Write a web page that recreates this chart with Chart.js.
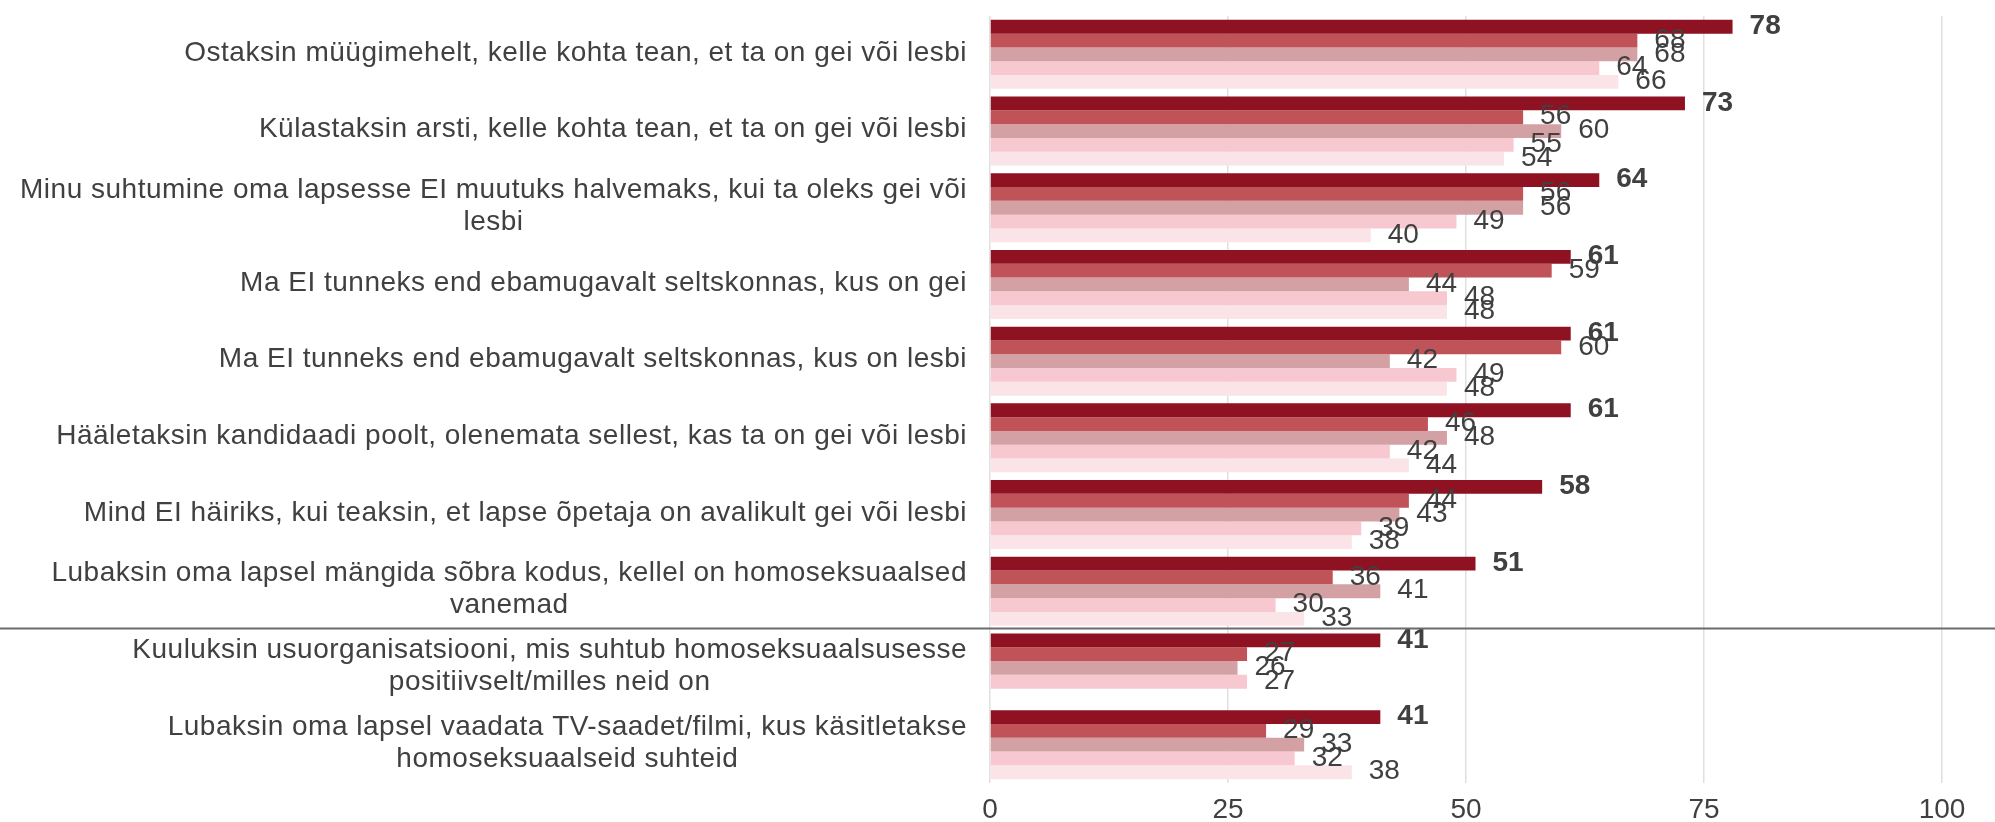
<!DOCTYPE html>
<html>
<head>
<meta charset="utf-8">
<script src="https://cdn.jsdelivr.net/npm/chart.js@4.4.0/dist/chart.umd.min.js"></script>
<style>
  html, body { margin: 0; padding: 0; background: #fff; }
  #wrap { width: 1995px; height: 822px; }
</style>
</head>
<body>
<div id="wrap"><canvas id="barChart"></canvas></div>
<script>
// ------------------------
// Data
// ------------------------

const categories = [
  ['Ostaksin müügimehelt, kelle kohta tean, et ta on gei või lesbi'],
  ['Külastaksin arsti, kelle kohta tean, et ta on gei või lesbi'],
  ['Minu suhtumine oma lapsesse EI muutuks halvemaks, kui ta oleks gei või', 'lesbi'],
  ['Ma EI tunneks end ebamugavalt seltskonnas, kus on gei'],
  ['Ma EI tunneks end ebamugavalt seltskonnas, kus on lesbi'],
  ['Hääletaksin kandidaadi poolt, olenemata sellest, kas ta on gei või lesbi'],
  ['Mind EI häiriks, kui teaksin, et lapse õpetaja on avalikult gei või lesbi'],
  ['Lubaksin oma lapsel mängida sõbra kodus, kellel on homoseksuaalsed', 'vanemad'],
  ['Kuuluksin usuorganisatsiooni, mis suhtub homoseksuaalsusesse', 'positiivselt/milles neid on'],
  ['Lubaksin oma lapsel vaadata TV-saadet/filmi, kus käsitletakse', 'homoseksuaalseid suhteid']
];

const series1 = [78, 73, 64, 61, 61, 61, 58, 51, 41, 41];
const series2 = [68, 56, 56, 59, 60, 46, 44, 36, 27, 29];
const series3 = [68, 60, 56, 44, 42, 48, 43, 41, 26, 33];
const series4 = [64, 55, 49, 48, 49, 42, 39, 30, 27, 32];
const series5 = [66, 54, 40, 48, 48, 44, 38, 33, null, 38];

const xTicks = [0, 25, 50, 75, 100];

const colors = ['#8f1222', '#bf5358', '#d3a1a4', '#f7c8cf', '#fae4e7'];

const FONT = '"Liberation Sans", Arial, Helvetica, sans-serif';
const TEXT = '#404040';

// ------------------------
// Plugins
// ------------------------

// value labels at the bar ends
const valueLabels = {
  id: 'valueLabels',
  afterDatasetsDraw(chart) {
    const ctx = chart.ctx;
    ctx.save();
    ctx.fillStyle = TEXT;
    ctx.textAlign = 'left';
    ctx.textBaseline = 'middle';
    chart.data.datasets.forEach((ds, i) => {
      const meta = chart.getDatasetMeta(i);
      ctx.font = (i === 0 ? 'bold ' : '') + '28px ' + FONT;
      meta.data.forEach((bar, j) => {
        const v = ds.data[j];
        if (v === null || v === undefined) return;
        ctx.fillText(Math.round(v), bar.x + 17, bar.y - 0.5);
      });
    });
    ctx.restore();
  }
};

// category labels: right block, extra lines centered under the first
const catLabels = {
  id: 'catLabels',
  afterDraw(chart) {
    const ctx = chart.ctx;
    const y = chart.scales.y;
    const right = chart.chartArea.left - 23;
    const lineH = 32;
    ctx.save();
    ctx.font = '28px ' + FONT;
    if ('letterSpacing' in ctx) ctx.letterSpacing = '0.5px';
    ctx.fillStyle = TEXT;
    ctx.textAlign = 'center';
    ctx.textBaseline = 'middle';
    categories.forEach((lines, i) => {
      const w = Math.max(...lines.map(l => ctx.measureText(l).width));
      const cx = right - w / 2;
      const cy = y.getPixelForValue(i) - 1.5 - (lines.length - 1) * lineH / 2;
      lines.forEach((l, k) => ctx.fillText(l, cx, cy + k * lineH));
    });

    // separator between the two blocks of statements
    const sy = (y.getPixelForValue(7) + y.getPixelForValue(8)) / 2 - 1;
    ctx.strokeStyle = '#6b6b6b';
    ctx.lineWidth = 2;
    ctx.beginPath();
    ctx.moveTo(0, sy);
    ctx.lineTo(chart.width, sy);
    ctx.stroke();
    ctx.restore();
  }
};

// ------------------------
// Chart
// ------------------------

const allSeries = [series1, series2, series3, series4, series5];

new Chart(document.getElementById('barChart'), {
  type: 'bar',
  data: {
    labels: categories.map(c => c.join(' ')),
    datasets: allSeries.map((s, i) => ({
      label: 'S' + (i + 1),
      data: s,
      backgroundColor: colors[i],
      borderWidth: 0,
      categoryPercentage: 0.9,
      barPercentage: 1.0
    }))
  },
  options: {
    indexAxis: 'y',
    responsive: true,
    maintainAspectRatio: false,
    animation: false,
    layout: { padding: { top: 16, right: 53, left: 0, bottom: 0 } },
    plugins: {
      legend: { display: false },
      tooltip: { enabled: false }
    },
    scales: {
      x: {
        min: 0,
        max: 100,
        afterBuildTicks: axis => { axis.ticks = xTicks.map(v => ({ value: v })); },
        afterFit: axis => { axis.height = 39; },
        grid: { color: '#e0e0e0', lineWidth: 1.5, drawTicks: false },
        border: { display: false },
        ticks: { color: TEXT, font: { family: FONT, size: 28 }, padding: 10 }
      },
      y: {
        grid: { display: false, drawTicks: false },
        border: { display: false },
        ticks: { display: false },
        afterFit: axis => { axis.width = 990; }
      }
    }
  },
  plugins: [valueLabels, catLabels]
});
</script>
</body>
</html>
